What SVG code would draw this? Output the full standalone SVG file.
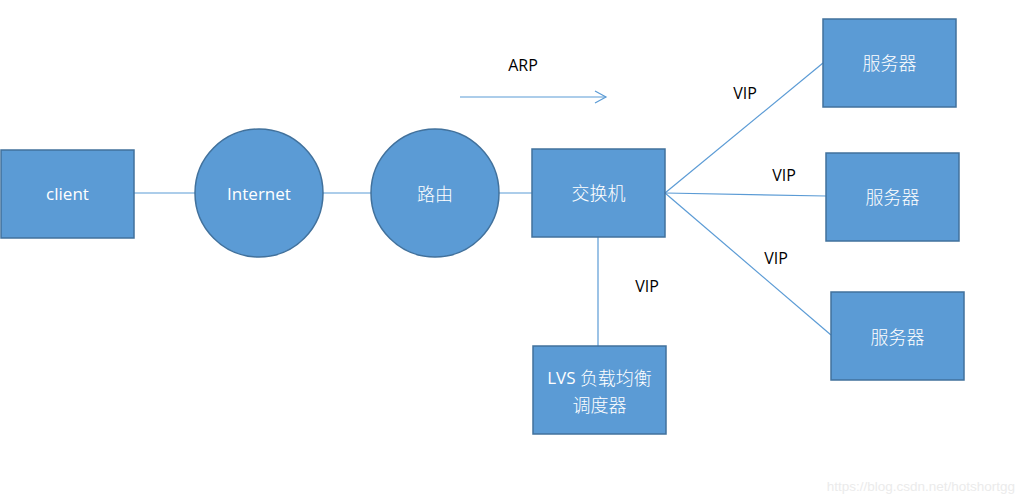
<svg xmlns="http://www.w3.org/2000/svg" width="1025" height="500" viewBox="0 0 1025 500">
<defs>
<style>
.n{fill:#5B9BD5;stroke:#41719C;stroke-width:1.5}
.t{fill:#fff;font-family:"Open Sans","Noto Sans","Noto Sans CJK SC",sans-serif;font-size:17px;text-anchor:middle;dominant-baseline:central}
.z{font-family:"Noto Sans CJK SC",sans-serif;font-size:18px;font-weight:300}
.c{stroke:#5B9BD5;stroke-width:1.2;fill:none}
.l{fill:#000;font-family:"Open Sans","Noto Sans",sans-serif;font-size:16px;text-anchor:middle;dominant-baseline:central}
</style>
<marker id="open" markerWidth="14" markerHeight="14" refX="12" refY="7" orient="auto" markerUnits="userSpaceOnUse">
<path d="M1,1 L12,7 L1,13" fill="none" stroke="#5B9BD5" stroke-width="1.2"/>
</marker>
</defs>
<rect width="1025" height="500" fill="#fff"/>
<g id="connectors">
<line class="c" x1="134" y1="193" x2="195" y2="193"/>
<line class="c" x1="323" y1="193" x2="371" y2="193"/>
<line class="c" x1="499" y1="193" x2="532" y2="193"/>
<line class="c" x1="665" y1="193" x2="823" y2="63"/>
<line class="c" x1="665" y1="193" x2="826" y2="196"/>
<line class="c" x1="665" y1="193" x2="831" y2="335"/>
<line class="c" x1="598" y1="237" x2="598" y2="346"/>
<line class="c" x1="460" y1="97" x2="606" y2="97" marker-end="url(#open)"/>
<text class="l" x="523" y="65">ARP</text>
<text class="l" x="745" y="93">VIP</text>
<text class="l" x="784" y="175">VIP</text>
<text class="l" x="776" y="258">VIP</text>
<text class="l" x="647" y="286">VIP</text>
</g>
<g id="client"><rect class="n" x="1" y="150" width="133" height="88"/><text class="t" x="67.5" y="193">client</text></g>
<g id="internet"><circle class="n" cx="259" cy="193" r="64"/><text class="t" x="259" y="193">Internet</text></g>
<g id="router"><circle class="n" cx="435" cy="193" r="64"/><text class="t z" x="435" y="193">路由</text></g>
<g id="switch"><rect class="n" x="532" y="149" width="133" height="88"/><text class="t z" x="598.5" y="192">交换机</text></g>
<g id="server1"><rect class="n" x="823" y="19" width="133" height="88"/><text class="t z" x="889.5" y="62">服务器</text></g>
<g id="server2"><rect class="n" x="826" y="153" width="133" height="88"/><text class="t z" x="892.5" y="196">服务器</text></g>
<g id="server3"><rect class="n" x="831" y="292" width="133" height="88"/><text class="t z" x="897.5" y="336">服务器</text></g>
<g id="lvs"><rect class="n" x="533" y="346" width="133" height="88"/><text class="t" x="599.5" y="377">LVS <tspan class="z">负载均衡</tspan></text><text class="t z" x="599.5" y="404">调度器</text></g>
<text x="1015" y="486" font-family="Liberation Sans,Arial,sans-serif" font-size="13.5" fill="#ebebeb" text-anchor="end" dominant-baseline="central">https://blog.csdn.net/hotshortgg</text>
</svg>
